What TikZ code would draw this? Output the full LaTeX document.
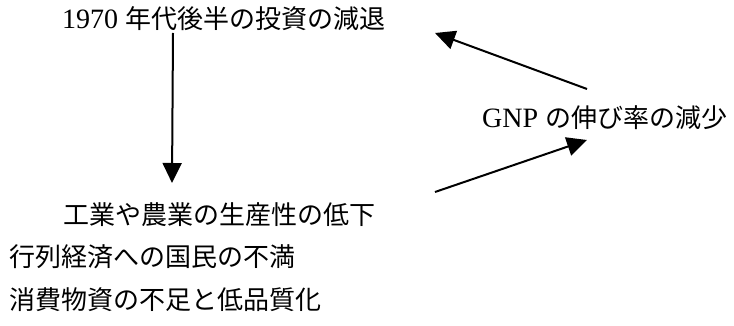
\documentclass[tikz,border=0pt]{standalone}
\usepackage{fontspec}
\setmainfont{Liberation Serif}
\newfontfamily\jp{Noto Sans CJK JP}
\usetikzlibrary{arrows.meta}
\newcommand{\lat}[1]{{\rmfamily\fontsize{28}{30}\selectfont #1}}
\tikzset{
  lbl/.style={anchor=west, inner sep=0pt, font=\fontsize{26}{30}\selectfont\jp},
  arr/.style={line width=2pt, -{Triangle[length=20pt,width=19pt]}}
}
\begin{document}
\begin{tikzpicture}[x=1pt,y=-1pt]
\useasboundingbox (0,0) rectangle (734,326);
\node[lbl] (t1) at (62,19) {\lat{1970 }年代後半の投資の減退};
\node[lbl] (t2) at (482,118) {\lat{GNP }の伸び率の減少};
\node[lbl] (t3) at (63,215) {工業や農業の生産性の低下};
\node[lbl] (t4) at (9,257) {行列経済への国民の不満};
\node[lbl] (t5) at (9,300) {消費物資の不足と低品質化};
\coordinate (a1s) at (173,33);
\coordinate (a1e) at (172,183);
\coordinate (a2s) at (587,89);
\coordinate (a2e) at (435,33);
\coordinate (a3s) at (435,192);
\coordinate (a3e) at (587,140);
\draw[arr] (a1s) -- (a1e);
\draw[arr] (a2s) -- (a2e);
\draw[arr] (a3s) -- (a3e);
\end{tikzpicture}
\end{document}
